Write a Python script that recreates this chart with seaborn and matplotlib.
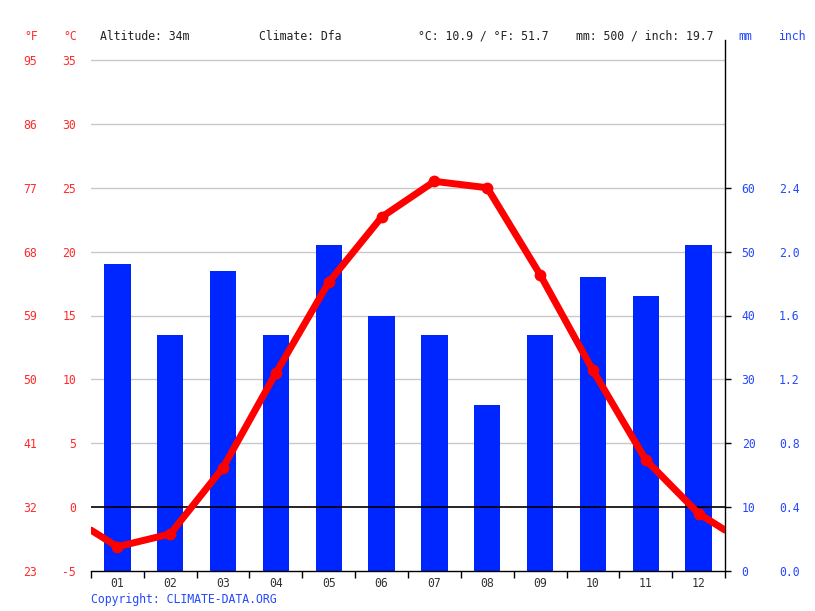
import matplotlib
matplotlib.use('Agg')
import matplotlib.pyplot as plt
import seaborn as sns
import pandas as pd
import numpy as np

# ---- data ----
months = ['01', '02', '03', '04', '05', '06', '07', '08', '09', '10', '11', '12']
temp_c = [-3.1, -2.1, 3.1, 10.5, 17.6, 22.7, 25.5, 25.0, 18.2, 10.7, 3.7, -0.5]
precip_mm = [48, 37, 47, 37, 51, 40, 37, 26, 37, 46, 43, 51]
c_ticks = [-5, 0, 5, 10, 15, 20, 25, 30, 35]
f_labels = ['23', '32', '41', '50', '59', '68', '77', '86', '95']
mm_ticks = [0, 10, 20, 30, 40, 50, 60]
inch_labels = ['0.0', '0.4', '0.8', '1.2', '1.6', '2.0', '2.4']
header_left = 'Altitude: 34m'
header_climate = 'Climate: Dfa'
header_temp = '°C: 10.9 / °F: 51.7'
header_prec = 'mm: 500 / inch: 19.7'

RED = '#ff0000'
RED_TXT = '#ff2a2a'
BLUE = '#0026ff'
BLUE_TXT = '#2448ff'

sns.set_theme(style='white')
plt.rcParams['font.family'] = ['DejaVu Sans Mono']
FS = 8.3

W, H = 815, 611
L, R, T, B = 91, 725, 40, 571
fig = plt.figure(figsize=(W / 100, H / 100), dpi=100)
ax = fig.add_axes([L / W, 1 - B / H, (R - L) / W, (B - T) / H])
ax2 = ax.twinx()
ax.set_zorder(ax2.get_zorder() + 1)
ax.patch.set_visible(False)

px_per_c = (571 - 60) / 40.0
c_top = 35 + (60 - T) / px_per_c

df = pd.DataFrame({'month': months, 'precip': precip_mm, 'temp': temp_c,
                   'x': np.arange(12)})

# precipitation bars
sns.barplot(data=df, x='month', y='precip', ax=ax2, color=BLUE, width=0.5,
            saturation=1, linewidth=0, errorbar=None)
ax2.set_ylim(0, 2 * (c_top + 5))
for c in c_ticks[1:]:
    if c != 0:
        ax2.axhline(2 * (c + 5), color='#c8c8c8', lw=1, zorder=0)

# temperature line
edge = (temp_c[0] + temp_c[-1]) / 2
ext = pd.DataFrame({'x': [-0.5] + list(range(12)) + [11.5],
                    'temp': [edge] + temp_c + [edge]})
ax.axhline(0, color='black', lw=1.2, zorder=3)
sns.lineplot(data=ext, x='x', y='temp', ax=ax, color=RED, lw=5, zorder=5)
sns.scatterplot(data=df, x='x', y='temp', ax=ax, color=RED, s=72,
                linewidth=0, zorder=6)
ax.set_ylim(-5, c_top)
ax.set_xlim(-0.5, 11.5)
ax.set_xlabel('')
ax.set_ylabel('')
ax2.set_xlabel('')
ax2.set_ylabel('')

# x axis
ax.set_xticks(range(12))
ax.set_xticklabels(months)
ax.set_xticks(np.arange(-0.5, 12, 1), minor=True)
ax.tick_params(axis='x', which='major', length=0, pad=4, labelsize=FS,
               labelcolor='#333333', bottom=True)
ax.tick_params(axis='x', which='minor', length=5, width=1, color='black',
               bottom=True)

# left axes (°C and °F)
ax.set_yticks(c_ticks)
ax.set_yticklabels([str(c) for c in c_ticks])
ax.tick_params(axis='y', length=0, pad=10.8, labelsize=FS, labelcolor=RED_TXT,
               left=True)
secf = ax.secondary_yaxis('left')
secf.set_yticks(c_ticks)
secf.set_yticklabels(f_labels)
secf.tick_params(axis='y', length=0, pad=38.9, labelsize=FS, labelcolor=RED_TXT)
secf.spines['left'].set_visible(False)

# right axes (mm and inch)
ax2.set_yticks(mm_ticks)
ax2.set_yticklabels([str(m) for m in mm_ticks])
ax2.tick_params(axis='y', right=True, length=4, width=1, color='black', pad=8,
                labelsize=FS, labelcolor=BLUE_TXT)
seci = ax2.secondary_yaxis('right')
seci.set_yticks(mm_ticks)
seci.set_yticklabels(inch_labels)
seci.tick_params(axis='y', length=0, pad=38.9, labelsize=FS, labelcolor=BLUE_TXT)
seci.spines['right'].set_visible(False)

# spines
for s in ['left', 'top', 'right']:
    ax.spines[s].set_visible(False)
ax.spines['bottom'].set_color('black')
ax.spines['bottom'].set_linewidth(1)
for s in ['left', 'top', 'bottom']:
    ax2.spines[s].set_visible(False)
ax2.spines['right'].set_color('black')
ax2.spines['right'].set_linewidth(1)

# header texts
def fx(x):
    return x / W

def fy(y):
    return 1 - y / H

hy = fy(36)
fig.text(fx(31), hy, '°F', color=RED_TXT, fontsize=FS, ha='center', va='center')
fig.text(fx(70), hy, '°C', color=RED_TXT, fontsize=FS, ha='center', va='center')
fig.text(fx(100), hy, header_left, color='#222222', fontsize=FS, ha='left', va='center')
fig.text(fx(259), hy, header_climate, color='#222222', fontsize=FS, ha='left', va='center')
fig.text(fx(418), hy, header_temp, color='#222222', fontsize=FS, ha='left', va='center')
fig.text(fx(576), hy, header_prec, color='#222222', fontsize=FS, ha='left', va='center')
fig.text(fx(745), hy, 'mm', color=BLUE_TXT, fontsize=FS, ha='center', va='center')
fig.text(fx(792), hy, 'inch', color=BLUE_TXT, fontsize=FS, ha='center', va='center')
fig.text(fx(91), fy(599), 'Copyright: CLIMATE-DATA.ORG', color=BLUE_TXT,
         fontsize=FS, ha='left', va='center')

fig.savefig('out.png', dpi=100)
